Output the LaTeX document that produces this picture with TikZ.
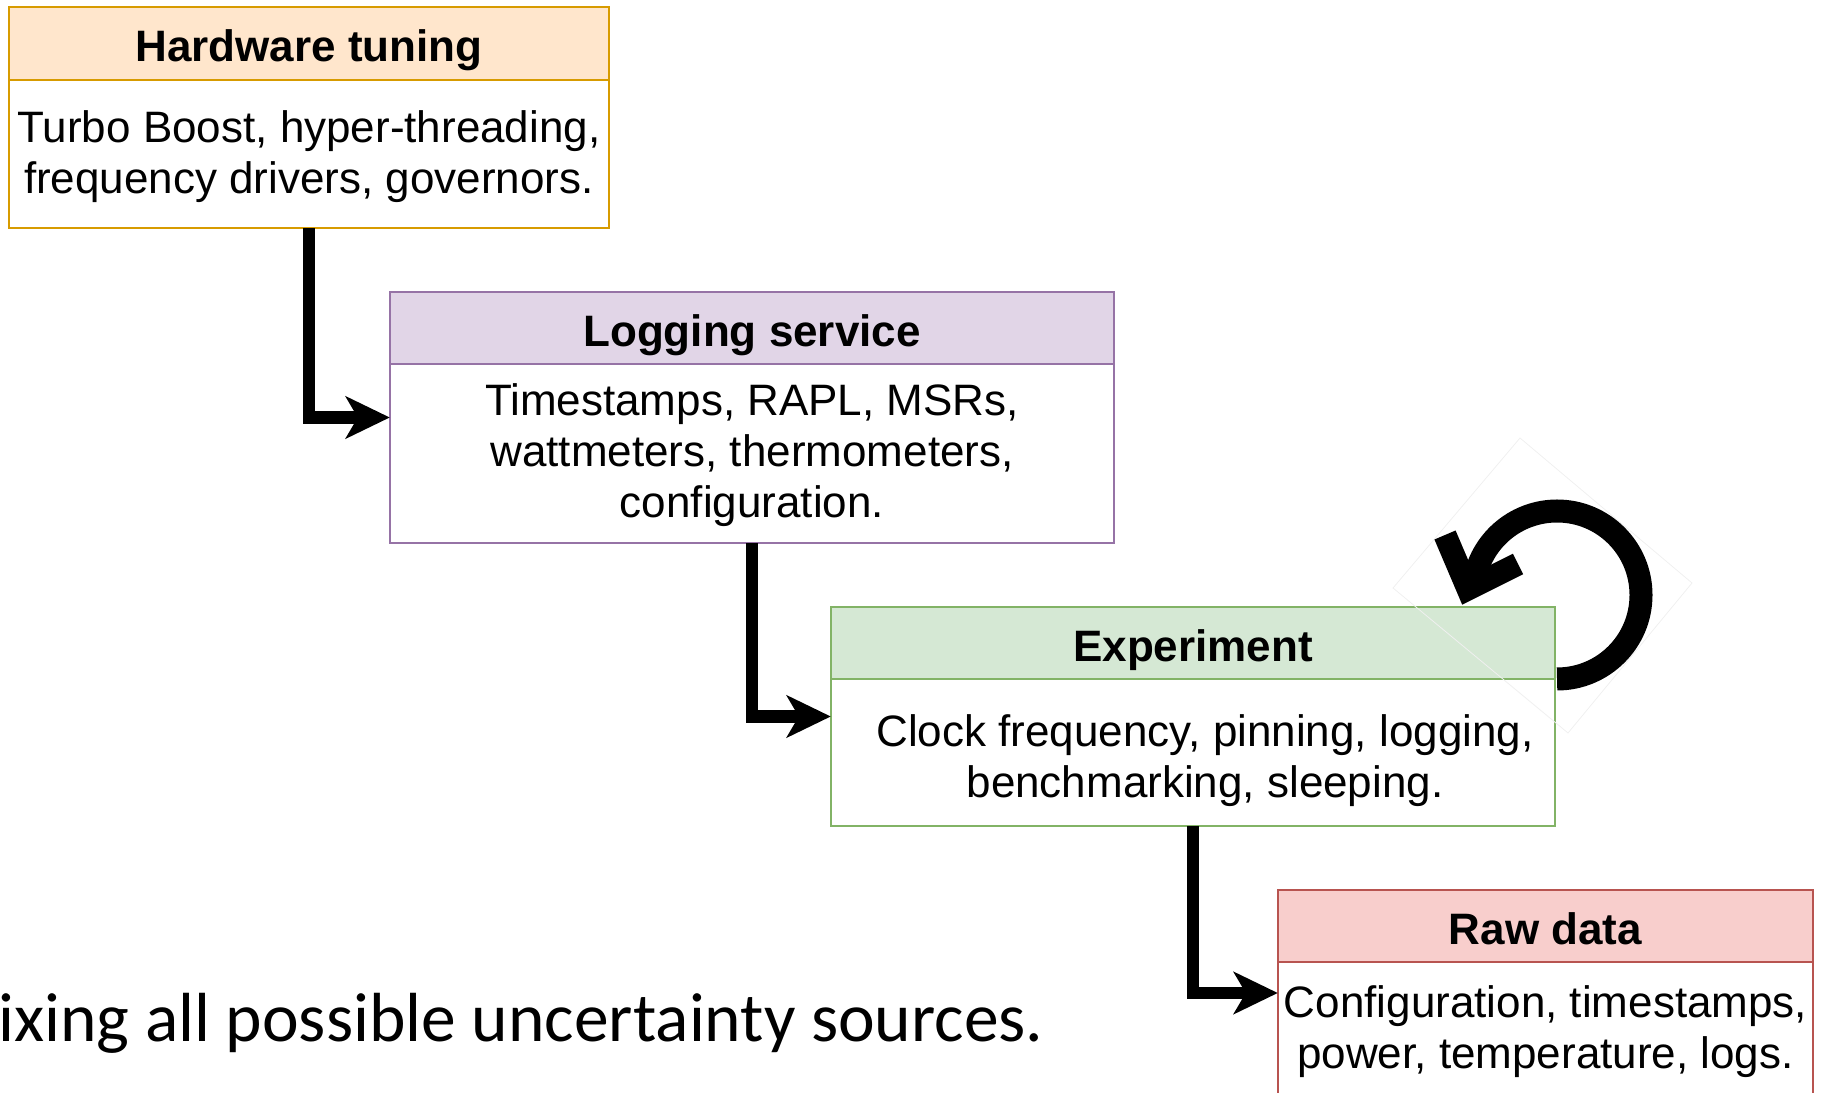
\documentclass[tikz,border=0pt]{standalone}
\usepackage{fontspec}
\setmainfont{Liberation Sans}
\newfontfamily\notefont{Carlito}
\usetikzlibrary{arrows.meta,calc}

\definecolor{hwfill}{HTML}{FFE6CC}\definecolor{hwline}{HTML}{D79B00}
\definecolor{logfill}{HTML}{E1D5E7}\definecolor{logline}{HTML}{9673A6}
\definecolor{expfill}{HTML}{D5E8D4}\definecolor{expline}{HTML}{82B366}
\definecolor{rawfill}{HTML}{F8CECC}\definecolor{rawline}{HTML}{B85450}

% A titled card: name, centre, width, height, header fill, border colour, header height
\newcommand{\cardbox}[7]{%
  \node[minimum width=#3, minimum height=#4, inner sep=0pt, fill=white] (#1) at #2 {};
  \fill[#5] (#1.north west) rectangle ($(#1.north east)+(0,-#7)$);
  \draw[#6, line width=2.5pt] ($(#1.north west)+(0,-#7)$) -- ($(#1.north east)+(0,-#7)$);
  \draw[#6, line width=2.5pt] (#1.north west) rectangle (#1.south east);
}

\begin{document}
\begin{tikzpicture}[x=1pt, y=1pt,
  cardtitle/.style={inner sep=0pt, text height=31.5pt, text depth=0pt,
    font=\bfseries\fontsize{44}{51}\selectfont},
  cardbody/.style={inner sep=0pt, align=center, font=\fontsize{44}{51}\selectfont},
  flow/.style={line width=12.5pt, line join=miter,
    -{Stealth[length=44pt, width=42pt, inset=12pt]}},
  loopline/.style={line width=23pt, line cap=butt, line join=miter}]

\useasboundingbox (0,0) rectangle (1822,1092);

% cards
\cardbox{hw}{(309,974.5)}{600pt}{221pt}{hwfill}{hwline}{73}
\cardbox{log}{(752,674.5)}{724pt}{251pt}{logfill}{logline}{72}
\cardbox{exp}{(1193,375.5)}{724pt}{219pt}{expfill}{expline}{72}
\cardbox{raw}{(1545.5,99)}{535pt}{206pt}{rawfill}{rawline}{72}

% titles
\node[cardtitle] (hw-title)  at ($(hw.north)+(0,-39)$) {Hardware tuning};
\node[cardtitle] (log-title) at ($(log.north)+(0,-38.5)$) {Logging service};
\node[cardtitle] (exp-title) at ($(exp.north)+(0,-38.5)$) {Experiment};
\node[cardtitle] (raw-title) at ($(raw.north)+(0,-38.5)$) {Raw data};

% contents
\node[cardbody] (hw-body) at ($(hw.center)+(0,-39)$)
  {Turbo Boost, hyper-threading,\\frequency drivers, governors.};
\node[cardbody] (log-body) at ($(log.center)+(0,-38)$)
  {Timestamps, RAPL, MSRs,\\wattmeters, thermometers,\\configuration.};
\node[cardbody] (exp-body) at ($(exp.center)+(12,-44)$)
  {Clock frequency, pinning, logging,\\benchmarking, sleeping.};
\node[cardbody] (raw-body) at ($(raw.center)+(0,-38.5)$)
  {Configuration, timestamps,\\power, temperature, logs.};

% flow between the cards
\draw[flow] (hw.south) |- (log.west);
\draw[flow] (log.south) |- (exp.west);
\draw[flow] (exp.south) |- (raw.west);

% repeat loop on the experiment card
\coordinate (loopc) at (1557,497);
\draw[black!6, line width=0.8pt] (1520,654) -- (1692,509) -- (1568,359) -- (1393,504) -- cycle;
\draw[loopline] ($(loopc)+(-90:84)$) arc[start angle=-90, end angle=168, radius=84];
\coordinate (tipA) at (1445,557);
\coordinate (tipB) at (1468,503);
\coordinate (tipC) at (1518,528);
\draw[loopline] (tipA) -- (tipB) -- (tipC);

% caption line below
\node[anchor=base west, inner sep=0pt, font=\notefont\fontsize{69.5}{80}\selectfont]
  (note) at (-2,51) {ixing all possible uncertainty sources.};
\end{tikzpicture}
\end{document}
